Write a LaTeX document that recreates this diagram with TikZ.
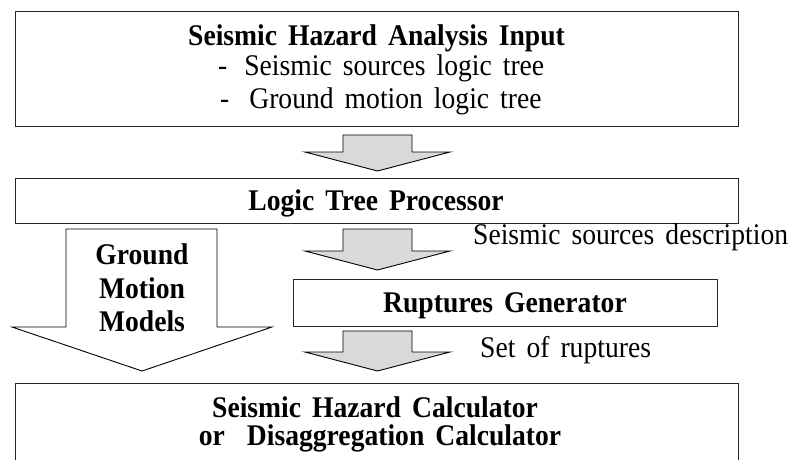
\documentclass[tikz,border=0pt]{standalone}
\usepackage{fontspec}
\setmainfont{Liberation Serif}[FakeStretch=0.92, WordSpace=1.6]
\begin{document}
\begin{tikzpicture}[x=1pt,y=-1pt,
  box/.style={draw=black!85, line width=1pt, fill=white, inner sep=0pt},
  garrow/.style={draw=black, line width=0.9pt, fill=black!15, line join=miter},
  warrow/.style={draw=black, line width=0.9pt, fill=white, line join=miter},
  bt/.style={font=\fontsize{30}{34}\selectfont\bfseries, inner sep=0pt, anchor=base},
  rt/.style={font=\fontsize{30}{34}\selectfont, inner sep=0pt, anchor=base}]
\clip (0,0) rectangle (790,459);
\fill[white] (0,0) rectangle (790,459);
% boxes
\node[box, minimum width=723pt, minimum height=115pt] (input) at (376.5,68.5) {};
\node[box, minimum width=723pt, minimum height=45pt] (ltp) at (376.5,200.5) {};
\node[box, minimum width=424pt, minimum height=47pt] (rup) at (505,302.5) {};
\node[box, minimum width=723pt, minimum height=110pt] (calc) at (376.5,438) {};
% texts
\node[bt] (t1) at (376.5,45) {Seismic Hazard Analysis Input};
\node[rt, anchor=base west] (t2) at (218,75) {-\hspace{17pt}Seismic sources logic tree};
\node[rt, anchor=base west] (t3) at (220,108) {-\hspace{20pt}Ground motion logic tree};
\node[bt] (t4) at (376,210) {Logic Tree Processor};
\node[bt] (t5) at (505,312) {Ruptures Generator};
\node[bt] (t6) at (375,417) {Seismic Hazard Calculator};
\node[bt] (t7) at (380,445) {or\hspace{22pt}Disaggregation Calculator};
% arrows
\draw[garrow] (343,135) -- (412,135) -- (412,152) -- (450,152) -- (377.5,171) -- (305,152) -- (343,152) -- cycle;
\draw[garrow] (343,229) -- (412,229) -- (412,251) -- (450,251) -- (377.5,270) -- (305,251) -- (343,251) -- cycle;
\draw[garrow] (343,331) -- (412,331) -- (412,352) -- (450,352) -- (377.5,371) -- (305,352) -- (343,352) -- cycle;
\draw[warrow] (66,229) -- (217,229) -- (217,327) -- (272,327) -- (142,371) -- (12,327) -- (66,327) -- cycle;
\node[bt] (g1) at (142,264) {Ground};
\node[bt] (g2) at (142,298) {Motion};
\node[bt] (g3) at (142,331) {Models};
\node[rt, anchor=base west] (l1) at (473,244) {Seismic sources description};
\node[rt, anchor=base west] (l2) at (480,357) {Set of ruptures};
\end{tikzpicture}
\end{document}
